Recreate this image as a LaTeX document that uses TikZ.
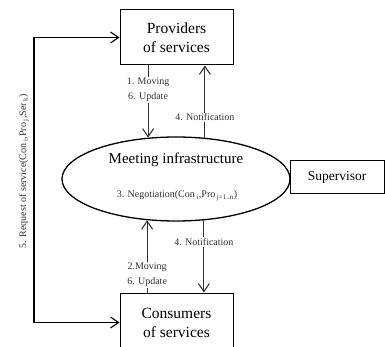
\documentclass[tikz,border=0pt]{standalone}
\usepackage{fontspec}
\setmainfont{Liberation Serif}
\usetikzlibrary{shapes.geometric,arrows.meta}
\begin{document}
\begin{tikzpicture}[x=1pt,y=-1pt,
  box/.style={draw=black,line width=1pt,inner sep=0pt,align=center},
  bigtxt/.style={font=\fontsize{15.5}{19}\selectfont},
  lbl/.style={fill=white,inner sep=1pt,align=center,text=black!80,font=\fontsize{10}{15}\selectfont},
  arr/.style={draw=black!80,line width=1.1pt,-{Straight Barb[length=8pt,width=11pt,line width=1.1pt]}},
  arrboth/.style={draw=black,line width=1.1pt,{Straight Barb[length=8pt,width=11pt,line width=1.1pt]}-{Straight Barb[length=8pt,width=11pt,line width=1.1pt]}}
]
\useasboundingbox (0,0) rectangle (385,347);
\clip (0,0) rectangle (385,347);
% nodes
\node[box,bigtxt,minimum width=113pt,minimum height=55pt] (prov) at (176.5,37.5) {Providers\\of services};
\node[box,bigtxt,minimum width=113pt,minimum height=59pt] (cons) at (176.5,322.5) {Consumers\\of services};
\node[draw=black,line width=1.3pt,ellipse,minimum width=228pt,minimum height=84pt,inner sep=0pt] (ell) at (176,179) {};
\node[font=\fontsize{15}{18}\selectfont] (meet) at (176,160) {Meeting infrastructure};
\node[font=\fontsize{10}{12}\selectfont,text=black!80] (neg) at (177,196) {3. Negotiation(Con\,\textsubscript{i},Pro\,\textsubscript{j=1..n})};
\node[box,font=\fontsize{13.5}{16}\selectfont,minimum width=94pt,minimum height=33pt] (sup) at (337,177.5) {Supervisor};
% coordinates for the left loop
\coordinate (lt) at (34,37.5);
\coordinate (lb) at (34,322.5);
% arrows
\draw[arr] (prov.south -| ell.124.5) -- (ell.124.5)
  node[lbl,pos=0.34] (m1) {1. Moving\\6. Update};
\draw[arr] (ell.55.5) -- (prov.south -| ell.55.5)
  node[lbl,pos=0.28] (n1) {4. Notification};
\draw[arr] (cons.north -| ell.235.5) -- (ell.235.5)
  node[lbl,pos=0.24] (m2) {2.Moving\\6. Update};
\draw[arr] (ell.304.5) -- (cons.north -| ell.304.5)
  node[lbl,pos=0.3] (n2) {4. Notification};
\draw[arrboth] (cons.west) -- (lb) -- (lt) -- (prov.west);
\node[rotate=90,font=\fontsize{10}{12}\selectfont,text=black!80] (req) at (24,171) {5. Request of service(Con\,\textsubscript{i},Pro\,\textsubscript{j},Ser\,\textsubscript{k})};
\end{tikzpicture}
\end{document}
